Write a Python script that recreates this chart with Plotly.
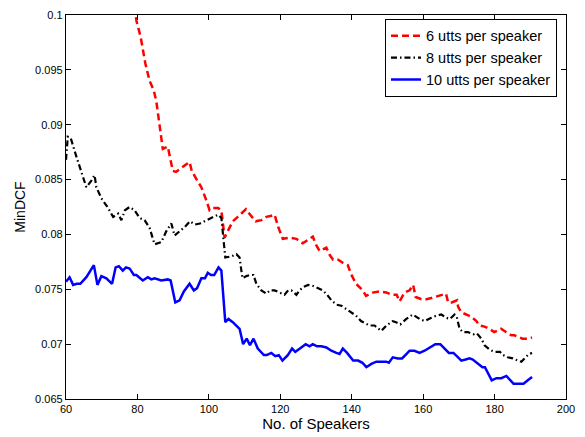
import plotly.graph_objects as go

# MinDCF vs number of enrolment speakers, for three utterance counts
x_6utts = [79.3, 79.7, 80.9, 81.5, 82.2, 83.4, 84.6, 85.3, 85.9, 86.5, 87.1, 88.5, 89.9, 90.8,
           92.3, 93.7, 94.6, 95.2, 96.4, 97.9, 99.3, 100.2, 101.1, 102.6, 103.5, 103.9, 104.4,
           105.3, 106.7, 108.1, 110.4, 111.3, 113.1, 114.7, 116.1, 117.5, 118.4, 119.4, 120.7,
           122.6, 124.5, 126.3, 127.7, 129.1, 130.1, 131.0, 132.9, 133.9, 134.8, 136.2, 137.6,
           138.9, 139.8, 141.2, 143.1, 144.0, 145.9, 147.8, 149.7, 151.3, 152.6, 153.4, 154.8,
           156.2, 157.2, 157.9, 159.5, 160.9, 162.3, 163.2, 165.1, 166.4, 167.0, 168.0, 169.5,
           169.8, 170.7, 172.1, 173.5, 174.9, 175.8, 177.2, 178.5, 179.9, 181.8, 183.2, 184.7,
           185.6, 187.8, 189.3, 190.5]
y_6utts = [0.1008, 0.0995, 0.0980, 0.0967, 0.0956, 0.0940, 0.0931, 0.0921, 0.0906, 0.0888,
           0.0878, 0.0880, 0.0858, 0.0857, 0.0861, 0.0864, 0.0866, 0.0858, 0.0851, 0.0843,
           0.0831, 0.0822, 0.0824, 0.0824, 0.0822, 0.0812, 0.0797, 0.0803, 0.0812, 0.0816,
           0.0823, 0.0819, 0.0812, 0.0813, 0.0816, 0.0817, 0.0818, 0.0807, 0.0796, 0.0797,
           0.0796, 0.0792, 0.0795, 0.0798, 0.0790, 0.0785, 0.0788, 0.0781, 0.0777, 0.0777,
           0.0774, 0.0772, 0.0764, 0.0755, 0.0749, 0.0744, 0.0747, 0.0748, 0.0747, 0.0745,
           0.0745, 0.0739, 0.0747, 0.0749, 0.0754, 0.0743, 0.0741, 0.0741, 0.0742, 0.0743,
           0.0745, 0.0746, 0.0738, 0.0738, 0.0740, 0.0734, 0.0729, 0.0727, 0.0725, 0.0721,
           0.0717, 0.0716, 0.0714, 0.0711, 0.0714, 0.0711, 0.0708, 0.0708, 0.0705, 0.0705,
           0.0706]

x_8utts = [60.0, 60.5, 61.3, 62.0, 63.0, 64.3, 65.7, 67.1, 68.0, 68.5, 69.9, 71.8, 73.2, 74.6,
           75.5, 76.5, 77.8, 79.2, 80.6, 82.0, 83.4, 84.8, 86.7, 88.1, 89.5, 90.4, 91.8, 93.3,
           94.7, 96.1, 97.5, 98.8, 100.7, 102.6, 103.5, 104.2, 104.6, 106.3, 107.7, 108.6,
           109.4, 110.5, 111.5, 112.5, 113.3, 114.7, 116.1, 117.1, 118.4, 119.8, 121.2, 122.2,
           123.1, 124.5, 125.4, 126.4, 127.8, 129.2, 130.5, 131.9, 133.1, 134.3, 135.7, 137.1,
           138.9, 141.2, 142.6, 145.0, 146.4, 148.3, 149.7, 151.5, 152.4, 153.6, 155.3, 157.1,
           159.0, 160.4, 162.3, 163.7, 165.1, 166.5, 167.5, 168.8, 169.4, 170.2, 171.1, 172.5,
           174.1, 175.0, 176.3, 177.2, 178.6, 180.0, 181.5, 182.4, 183.7, 185.1, 186.5, 187.5,
           188.1, 188.8, 189.6, 190.5]
y_8utts = [0.0868, 0.0889, 0.0888, 0.0880, 0.0870, 0.0857, 0.0843, 0.0849, 0.0854, 0.0843,
           0.0833, 0.0824, 0.0816, 0.0819, 0.0813, 0.0822, 0.0825, 0.0822, 0.0815, 0.0813,
           0.0806, 0.0791, 0.0793, 0.0803, 0.0810, 0.0799, 0.0803, 0.0807, 0.0812, 0.0809,
           0.0810, 0.0812, 0.0815, 0.0818, 0.0815, 0.0788, 0.0779, 0.0780, 0.0782, 0.0779,
           0.0760, 0.0762, 0.0763, 0.0763, 0.0755, 0.0749, 0.0746, 0.0749, 0.0749, 0.0747,
           0.0745, 0.0749, 0.0749, 0.0745, 0.0749, 0.0752, 0.0754, 0.0753, 0.0751, 0.0749,
           0.0745, 0.0740, 0.0736, 0.0735, 0.0731, 0.0726, 0.0721, 0.0717, 0.0717, 0.0712,
           0.0717, 0.0721, 0.0720, 0.0718, 0.0723, 0.0727, 0.0723, 0.0721, 0.0724, 0.0726,
           0.0727, 0.0724, 0.0723, 0.0727, 0.0725, 0.0714, 0.0711, 0.0711, 0.0709, 0.0710,
           0.0705, 0.0699, 0.0695, 0.0693, 0.0693, 0.0690, 0.0688, 0.0687, 0.0685, 0.0684,
           0.0686, 0.0688, 0.0691, 0.0692]

x_10utts = [60.0, 61.0, 62.0, 63.0, 64.0, 65.7, 67.8, 68.8, 69.9, 71.3, 72.9, 73.9, 74.8, 75.9,
            76.8, 77.8, 79.0, 79.7, 81.5, 82.9, 83.9, 84.8, 86.7, 88.5, 89.3, 90.6, 91.8, 93.0,
            94.6, 95.8, 96.7, 97.9, 98.9, 99.7, 100.6, 101.5, 102.7, 103.5, 104.6, 105.5,
            106.7, 108.1, 108.6, 109.6, 110.6, 111.5, 112.5, 113.7, 115.4, 116.2, 117.5, 118.6,
            119.6, 120.6, 122.1, 123.3, 124.2, 125.5, 127.1, 128.2, 129.1, 130.3, 131.5, 132.9,
            134.3, 135.7, 136.6, 137.5, 138.7, 140.4, 141.8, 143.0, 144.1, 145.5, 146.9, 148.3,
            149.7, 150.4, 151.5, 152.9, 154.1, 155.3, 156.2, 157.6, 159.0, 160.4, 161.8, 163.4,
            164.8, 166.0, 167.2, 168.5, 169.7, 170.7, 171.9, 173.0, 173.9, 175.3, 176.6, 177.3,
            178.4, 179.2, 180.5, 181.9, 183.3, 184.3, 185.3, 187.0, 188.1, 189.3, 190.5]
y_10utts = [0.0757, 0.0761, 0.0754, 0.0755, 0.0755, 0.0761, 0.0772, 0.0754, 0.0762, 0.0760,
            0.0755, 0.0770, 0.0771, 0.0767, 0.0770, 0.0769, 0.0763, 0.0763, 0.0758, 0.0761,
            0.0759, 0.0760, 0.0758, 0.0759, 0.0758, 0.0738, 0.0740, 0.0748, 0.0755, 0.0749,
            0.0751, 0.0760, 0.0760, 0.0765, 0.0763, 0.0763, 0.0770, 0.0767, 0.0720, 0.0723,
            0.0720, 0.0715, 0.0714, 0.0700, 0.0705, 0.0699, 0.0705, 0.0696, 0.0690, 0.0690,
            0.0692, 0.0689, 0.0690, 0.0685, 0.0690, 0.0696, 0.0693, 0.0696, 0.0700, 0.0698,
            0.0700, 0.0698, 0.0698, 0.0697, 0.0694, 0.0692, 0.0691, 0.0696, 0.0692, 0.0685,
            0.0685, 0.0683, 0.0679, 0.0682, 0.0684, 0.0684, 0.0684, 0.0683, 0.0688, 0.0687,
            0.0687, 0.0691, 0.0694, 0.0694, 0.0692, 0.0694, 0.0697, 0.0700, 0.0700, 0.0696,
            0.0692, 0.0692, 0.0688, 0.0685, 0.0686, 0.0687, 0.0686, 0.0682, 0.0679, 0.0679,
            0.0672, 0.0667, 0.0669, 0.0669, 0.0671, 0.0667, 0.0664, 0.0664, 0.0664, 0.0667,
            0.0670]

series_names = ["6 utts per speaker", "8 utts per speaker", "10 utts per speaker"]

x_ticks = [60, 80, 100, 120, 140, 160, 180, 200]
y_ticks = [0.065, 0.07, 0.075, 0.08, 0.085, 0.09, 0.095, 0.1]
y_tick_text = ["0.065", "0.07", "0.075", "0.08", "0.085", "0.09", "0.095", "0.1"]

FONT = "Liberation Sans, Arial, sans-serif"

fig = go.Figure()
fig.add_trace(go.Scatter(x=x_6utts, y=y_6utts, mode="lines", name=series_names[0],
                         line=dict(color="#ff0000", width=2.5, dash="7px,4px")))
fig.add_trace(go.Scatter(x=x_8utts, y=y_8utts, mode="lines", name=series_names[1],
                         line=dict(color="#000000", width=2.2, dash="6px,3px,1.5px,3px")))
fig.add_trace(go.Scatter(x=x_10utts, y=y_10utts, mode="lines", name=series_names[2],
                         line=dict(color="#0000ff", width=2.5)))

axis_common = dict(
    showgrid=False, zeroline=False, showline=True, linecolor="black", linewidth=1.3,
    mirror="ticks", ticks="inside", ticklen=5, tickcolor="black",
    tickfont=dict(family=FONT, size=11, color="black"),
)

fig.update_xaxes(range=[60, 200], tickvals=x_ticks,
                 title=dict(text="No. of Speakers", font=dict(family=FONT, size=15, color="black"),
                            standoff=2),
                 **axis_common)
fig.update_yaxes(range=[0.065, 0.1], tickvals=y_ticks, ticktext=y_tick_text,
                 title=dict(text="MinDCF", font=dict(family=FONT, size=14, color="black"),
                            standoff=6),
                 **axis_common)

fig.update_layout(
    width=585, height=437,
    margin=dict(l=66, r=19, t=9, b=36),
    paper_bgcolor="white", plot_bgcolor="white",
    font=dict(family=FONT, color="black"),
    legend=dict(x=0.982, y=0.99, xanchor="right", yanchor="top",
                bgcolor="white", bordercolor="black", borderwidth=1,
                font=dict(family=FONT, size=14.5, color="black"),
                tracegroupgap=0, itemwidth=30),
    showlegend=True,
)

fig.write_html("out.html")
